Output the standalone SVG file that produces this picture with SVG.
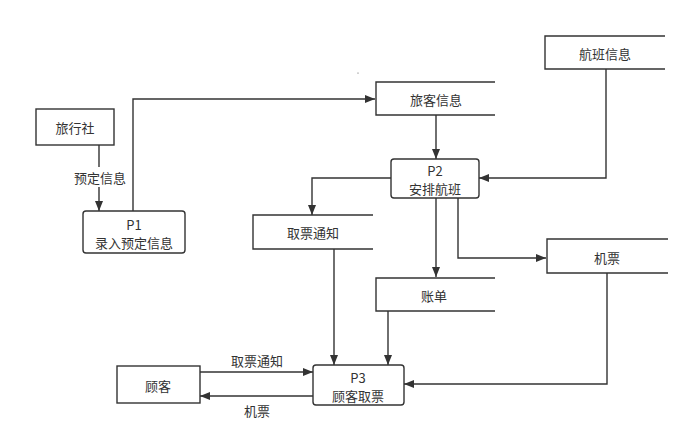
<svg xmlns="http://www.w3.org/2000/svg" width="691" height="430" viewBox="0 0 691 430">
<style>
.box{fill:#fff;stroke:#333;stroke-width:1.4}
.store{fill:none;stroke:#333;stroke-width:1.4}
.t{font-family:"Noto Sans CJK SC","Noto Sans",sans-serif;font-size:13px;fill:#333;text-anchor:middle;dominant-baseline:central}
.c{fill:none;stroke:#333;stroke-width:1.4}
</style>
<defs>
<marker id="ah" markerUnits="userSpaceOnUse" markerWidth="10" markerHeight="8" refX="10" refY="4" orient="auto">
<path d="M0,0 L10,4 L0,8 z" fill="#333"/>
</marker>
</defs>
<rect width="691" height="430" fill="#fff"/>
<g id="connectors">
<path class="c" d="M99,145 V167"/>
<path class="c" d="M99,187 V211" marker-end="url(#ah)"/>
<text class="t" x="100" y="177">预定信息</text>
<path class="c" d="M133,211 V99 H375" marker-end="url(#ah)"/>
<path class="c" d="M436,115 V159" marker-end="url(#ah)"/>
<path class="c" d="M606,69 V178 H479" marker-end="url(#ah)"/>
<path class="c" d="M391,178 H312 V215" marker-end="url(#ah)"/>
<path class="c" d="M436,198 V277" marker-end="url(#ah)"/>
<path class="c" d="M458,198 V258 H546" marker-end="url(#ah)"/>
<path class="c" d="M334,249 V365" marker-end="url(#ah)"/>
<path class="c" d="M388,311 V365" marker-end="url(#ah)"/>
<path class="c" d="M607,273 V384 H404" marker-end="url(#ah)"/>
<path class="c" d="M200,372 H313" marker-end="url(#ah)"/>
<text class="t" x="257" y="360">取票通知</text>
<path class="c" d="M313,396 H200" marker-end="url(#ah)"/>
<text class="t" x="257" y="410">机票</text>
</g>
<g id="travel-agency">
<rect class="box" x="36" y="109" width="78" height="36"/>
<text class="t" x="75" y="127">旅行社</text>
</g>
<g id="p1">
<rect class="box" x="83" y="211" width="102" height="42" rx="3"/>
<text class="t" x="134" y="224">P1</text>
<text class="t" x="134" y="242">录入预定信息</text>
</g>
<g id="passenger-info">
<path class="store" d="M495,82 H376 V115 H495"/>
<text class="t" x="436" y="99">旅客信息</text>
</g>
<g id="flight-info">
<path class="store" d="M665,36 H545 V69 H665"/>
<text class="t" x="605" y="53">航班信息</text>
</g>
<g id="p2">
<rect class="box" x="391" y="159" width="88" height="39" rx="3"/>
<text class="t" x="435" y="170">P2</text>
<text class="t" x="435" y="188">安排航班</text>
</g>
<g id="pickup-notice">
<path class="store" d="M373,215 H253 V249 H373"/>
<text class="t" x="313" y="232">取票通知</text>
</g>
<g id="ticket">
<path class="store" d="M668,239 H547 V273 H668"/>
<text class="t" x="607" y="257">机票</text>
</g>
<g id="bill">
<path class="store" d="M495,278 H376 V311 H495"/>
<text class="t" x="434" y="295">账单</text>
</g>
<g id="customer">
<rect class="box" x="117" y="366" width="83" height="37"/>
<text class="t" x="158" y="385">顾客</text>
</g>
<g id="p3">
<rect class="box" x="313" y="365" width="91" height="40" rx="3"/>
<text class="t" x="358" y="377">P3</text>
<text class="t" x="358" y="395">顾客取票</text>
</g>
<circle cx="358" cy="73" r="0.6" fill="#555"/>
</svg>
